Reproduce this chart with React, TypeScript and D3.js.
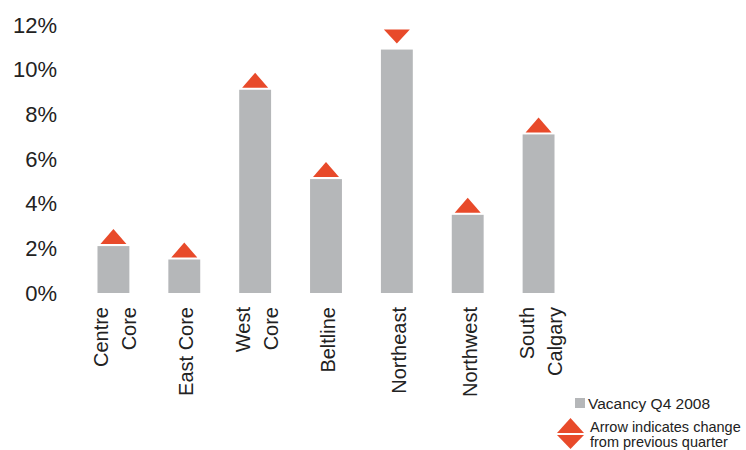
import React from "react";
import * as d3 from "d3";

const categories = ["Centre Core", "East Core", "West Core", "Beltline", "Northeast", "Northwest", "South Calgary"];
const labelLines = [["Centre", "Core"], ["East Core"], ["West", "Core"], ["Beltline"], ["Northeast"], ["Northwest"], ["South", "Calgary"]];
const vacancy = [2.1, 1.5, 9.1, 5.1, 10.9, 3.5, 7.1];
const direction = ["up", "up", "up", "up", "down", "up", "up"];
const yTicks = [0, 2, 4, 6, 8, 10, 12];
const legendBar = "Vacancy Q4 2008";
const legendArrow = ["Arrow indicates change", "from previous quarter"];

const W = 746;
const H = 450;
const GRAY = "#b5b7b9";
const RED = "#e84a2a";
const FONT = "'Liberation Sans', Arial, Helvetica, sans-serif";

export default function App() {
  const x = d3.scaleBand<string>().domain(categories).range([78, 574]).paddingInner(0.55).paddingOuter(0.275);
  const y = d3.scaleLinear().domain([0, 12]).range([293, 25]);
  const bw = x.bandwidth();
  const triW = 26;
  const triH = 15;

  return (
    <svg width={W} height={H} style={{ position: "absolute", left: 0, top: 0, background: "#fff" }} fontFamily={FONT}>
      {yTicks.map((t) => (
        <text key={t} x={57} y={y(t)} textAnchor="end" dominantBaseline="central" fontSize={22} fill="#222">
          {t}%
        </text>
      ))}
      {categories.map((c, i) => {
        const x0 = x(c) as number;
        const cx = x0 + bw / 2;
        const top = y(vacancy[i]);
        let tri: string;
        if (direction[i] === "up") {
          const b = top - 2;
          tri = `M${cx - triW / 2},${b} L${cx + triW / 2},${b} L${cx},${b - triH} Z`;
        } else {
          const t0 = top - 20;
          tri = `M${cx - triW / 2},${t0} L${cx + triW / 2},${t0} L${cx},${t0 + triH - 1} Z`;
        }
        const lines = labelLines[i];
        return (
          <g key={c}>
            <rect x={x0} y={top} width={bw} height={y(0) - top} fill={GRAY} />
            <path d={tri} fill={RED} />
            {lines.map((ln, j) => {
              const off = 2 + (j - (lines.length - 1) / 2) * 28;
              return (
                <text
                  key={j}
                  transform={`translate(${cx + off},307) rotate(-90)`}
                  textAnchor="end"
                  dominantBaseline="central"
                  fontSize={20}
                  fill="#222"
                >
                  {ln}
                </text>
              );
            })}
          </g>
        );
      })}
      <rect x={575} y={398} width={10} height={10} fill={GRAY} />
      <text x={588} y={409} fontSize={15.5} fill="#222">
        {legendBar}
      </text>
      <path d={`M557,433 L584,433 L570.5,418 Z`} fill={RED} />
      <path d={`M557,435 L584,435 L570.5,449 Z`} fill={RED} />
      <text x={590} y={432} fontSize={14.5} fill="#222">
        {legendArrow[0]}
      </text>
      <text x={590} y={447} fontSize={14.5} fill="#222">
        {legendArrow[1]}
      </text>
    </svg>
  );
}
